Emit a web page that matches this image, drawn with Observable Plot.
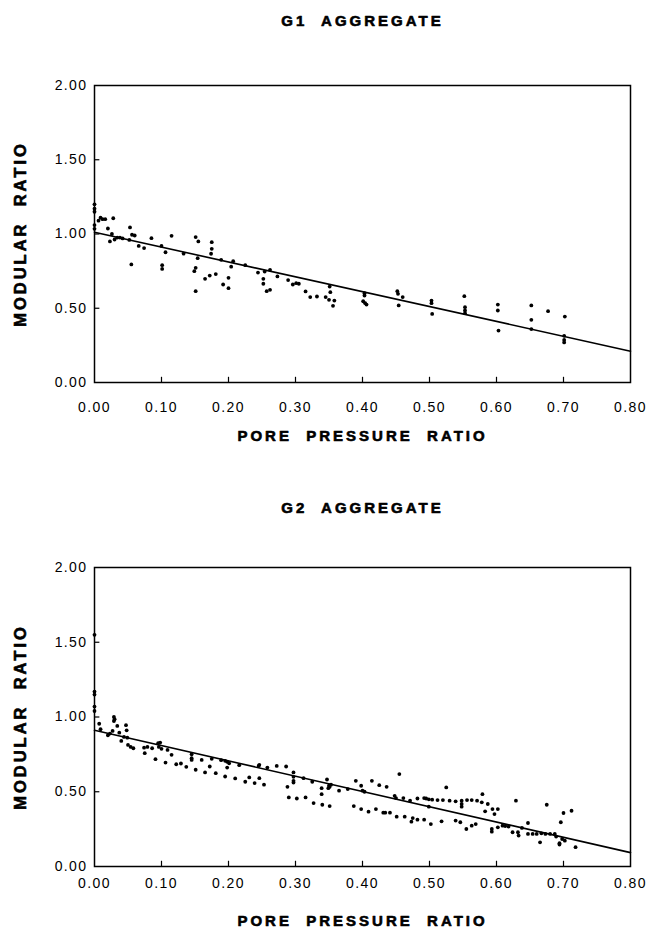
<!DOCTYPE html>
<html><head><meta charset="utf-8">
<script src="https://cdn.jsdelivr.net/npm/d3@7"></script>
<script src="https://cdn.jsdelivr.net/npm/@observablehq/plot@0.6"></script>
<style>
body{margin:0;background:#fff;}
#chart{width:652px;}
#chart svg{display:block;}
g[aria-label="text"] text{letter-spacing:3px;}
g[aria-label="x-axis tick label"] text, g[aria-label="y-axis tick label"] text{letter-spacing:1.4px;}
</style></head><body><div id="chart"></div>
<script>
const titles = ["G1  AGGREGATE", "G2  AGGREGATE"];
const xAxisLabel = "PORE  PRESSURE  RATIO";
const yAxisLabel = "MODULAR  RATIO";
const xTickVals = [0, 0.1, 0.2, 0.3, 0.4, 0.5, 0.6, 0.7, 0.8];
const yTickVals = [0, 0.5, 1.0, 1.5, 2.0];
const xInnerTicks = [0.1, 0.2, 0.3, 0.4, 0.5, 0.6, 0.7];
const yInnerTicks = [0.5, 1.0, 1.5];

const g1X = [0,0,0,0,0,0.006,0.009,0.012,0.016,0.028,0.02,0.023,0.026,0.03,0.034,0.038,0.042,0.053,0.052,0.056,0.06,0.055,0.066,0.074,0.085,0.1,0.101,0.101,0.106,0.115,0.133,0.151,0.155,0.151,0.149,0.154,0.151,0.165,0.172,0.175,0.175,0.174,0.181,0.189,0.2,0.2,0.192,0.204,0.207,0.225,0.244,0.252,0.252,0.254,0.262,0.257,0.262,0.273,0.289,0.296,0.301,0.305,0.315,0.322,0.332,0.345,0.35,0.358,0.356,0.351,0.352,0.403,0.403,0.401,0.404,0.406,0.452,0.453,0.46,0.454,0.503,0.503,0.504,0.552,0.553,0.553,0.553,0.602,0.602,0.603,0.652,0.652,0.652,0.677,0.702,0.701,0.701,0.701];
const g1Y = [1.20,1.17,1.15,1.06,1.035,1.09,1.11,1.10,1.10,1.106,1.037,0.95,1.0,0.963,0.976,0.976,0.97,1.044,0.96,0.995,0.99,0.795,0.92,0.905,0.972,0.92,0.79,0.765,0.877,0.988,0.868,0.979,0.95,0.772,0.75,0.837,0.615,0.698,0.72,0.945,0.9,0.867,0.73,0.826,0.705,0.635,0.66,0.78,0.817,0.79,0.74,0.698,0.665,0.747,0.759,0.615,0.624,0.714,0.69,0.66,0.669,0.665,0.613,0.575,0.579,0.575,0.557,0.552,0.516,0.646,0.608,0.601,0.586,0.547,0.534,0.525,0.615,0.597,0.575,0.519,0.552,0.534,0.462,0.581,0.507,0.485,0.467,0.525,0.485,0.35,0.519,0.422,0.36,0.48,0.444,0.314,0.287,0.27];
const g1LineX = [0, 0.8];
const g1LineY = [1.012, 0.211];

const g2X = [0,0,0,0,0,0.007,0.009,0.02,0.023,0.027,0.029,0.029,0.03,0.034,0.037,0.04,0.047,0.048,0.044,0.049,0.05,0.054,0.058,0.074,0.075,0.079,0.086,0.091,0.095,0.098,0.096,0.1,0.106,0.109,0.115,0.122,0.129,0.137,0.145,0.145,0.145,0.151,0.16,0.165,0.172,0.175,0.181,0.189,0.195,0.198,0.198,0.195,0.201,0.21,0.216,0.225,0.231,0.239,0.245,0.246,0.246,0.253,0.258,0.272,0.286,0.288,0.29,0.297,0.297,0.297,0.297,0.302,0.312,0.315,0.325,0.327,0.339,0.339,0.34,0.347,0.35,0.351,0.353,0.349,0.351,0.365,0.378,0.387,0.39,0.398,0.398,0.4,0.403,0.409,0.414,0.42,0.425,0.431,0.434,0.436,0.441,0.448,0.45,0.451,0.455,0.461,0.463,0.471,0.475,0.473,0.482,0.482,0.492,0.495,0.499,0.492,0.499,0.502,0.504,0.512,0.518,0.52,0.525,0.53,0.539,0.539,0.548,0.548,0.548,0.556,0.563,0.546,0.555,0.563,0.569,0.571,0.579,0.578,0.583,0.587,0.594,0.597,0.602,0.593,0.593,0.602,0.609,0.613,0.618,0.624,0.632,0.633,0.629,0.638,0.647,0.647,0.654,0.66,0.665,0.667,0.673,0.68,0.687,0.675,0.689,0.694,0.694,0.696,0.698,0.702,0.7,0.712,0.718];
const g2Y = [1.55,1.17,1.15,1.07,1.04,0.955,0.918,0.878,0.889,0.907,1.0,0.973,0.985,0.94,0.895,0.84,0.945,0.911,0.867,0.862,0.813,0.8,0.791,0.795,0.758,0.8,0.791,0.718,0.825,0.829,0.8,0.787,0.695,0.78,0.747,0.684,0.689,0.667,0.751,0.724,0.713,0.647,0.713,0.629,0.669,0.72,0.624,0.711,0.707,0.662,0.7,0.602,0.69,0.589,0.678,0.567,0.596,0.558,0.673,0.68,0.591,0.547,0.662,0.673,0.669,0.533,0.462,0.629,0.6,0.573,0.562,0.455,0.591,0.462,0.567,0.424,0.524,0.484,0.413,0.582,0.54,0.533,0.547,0.524,0.404,0.507,0.518,0.404,0.573,0.54,0.384,0.507,0.5,0.367,0.573,0.384,0.544,0.36,0.36,0.533,0.36,0.473,0.458,0.333,0.618,0.458,0.333,0.44,0.324,0.3,0.455,0.313,0.458,0.455,0.449,0.313,0.4,0.284,0.447,0.444,0.302,0.444,0.529,0.44,0.436,0.307,0.44,0.418,0.4,0.444,0.444,0.296,0.251,0.273,0.284,0.44,0.484,0.429,0.369,0.418,0.384,0.351,0.384,0.251,0.233,0.262,0.273,0.271,0.267,0.229,0.229,0.207,0.44,0.258,0.291,0.218,0.218,0.218,0.162,0.222,0.218,0.218,0.218,0.413,0.2,0.156,0.147,0.296,0.184,0.173,0.358,0.373,0.129];
const g2LineX = [0, 0.8];
const g2LineY = [0.911, 0.093];

const fmt = d3.format(".2f");
const FONT = "'Liberation Sans', Arial, sans-serif";

function panel({title, xs, ys, lx, ly, mt, mb, titleDy, tickPad, xLabelDy}) {
  const pts = xs.map((x, i) => ({x, y: ys[i]}));
  const line = lx.map((x, i) => ({x, y: ly[i]}));
  const heavy = {stroke: "#000", strokeWidth: 0.6, fill: "#000", fontWeight: "bold"};
  return Plot.plot({
    width: 652, height: 466,
    marginLeft: 94, marginRight: 22, marginTop: mt, marginBottom: mb,
    style: {fontFamily: FONT, color: "#000", background: "#fff", overflow: "visible"},
    x: {domain: [0, 0.8]},
    y: {domain: [0, 2]},
    marks: [
      Plot.frame({stroke: "#000", strokeWidth: 1.5}),
      Plot.axisX(xTickVals, {tickSize: 0, tickPadding: tickPad, tickFormat: fmt, fontSize: 14, label: null}),
      Plot.axisY(yTickVals, {tickSize: 0, tickPadding: 7, tickFormat: fmt, fontSize: 14, label: null}),
      Plot.ruleX(xInnerTicks, {x: d => d, y1: 0, y2: 0.035, stroke: "#000", strokeWidth: 1.2}),
      Plot.ruleY(yInnerTicks, {y: d => d, x1: 0, x2: 0.008, stroke: "#000", strokeWidth: 1.2}),
      Plot.line(line, {x: "x", y: "y", stroke: "#000", strokeWidth: 1.6}),
      Plot.dot(pts, {x: "x", y: "y", r: 1.9, fill: "#000"}),
      Plot.text([title], {text: d => d, frameAnchor: "top", dy: titleDy, fontSize: 15, ...heavy}),
      Plot.text([xAxisLabel], {text: d => d, frameAnchor: "bottom", dy: xLabelDy, fontSize: 15, ...heavy}),
      Plot.text([yAxisLabel], {text: d => d, frameAnchor: "left", textAnchor: "middle", dx: -74, rotate: -90, fontSize: 16.5, ...heavy})
    ]
  });
}

const chart = document.getElementById("chart");
chart.append(panel({title: titles[0], xs: g1X, ys: g1Y, lx: g1LineX, ly: g1LineY, mt: 85, mb: 84, titleDy: -70, tickPad: 20, xLabelDy: 58}));
chart.append(panel({title: titles[1], xs: g2X, ys: g2Y, lx: g2LineX, ly: g2LineY, mt: 101, mb: 66, titleDy: -65, tickPad: 12, xLabelDy: 59}));
</script>
</body></html>
